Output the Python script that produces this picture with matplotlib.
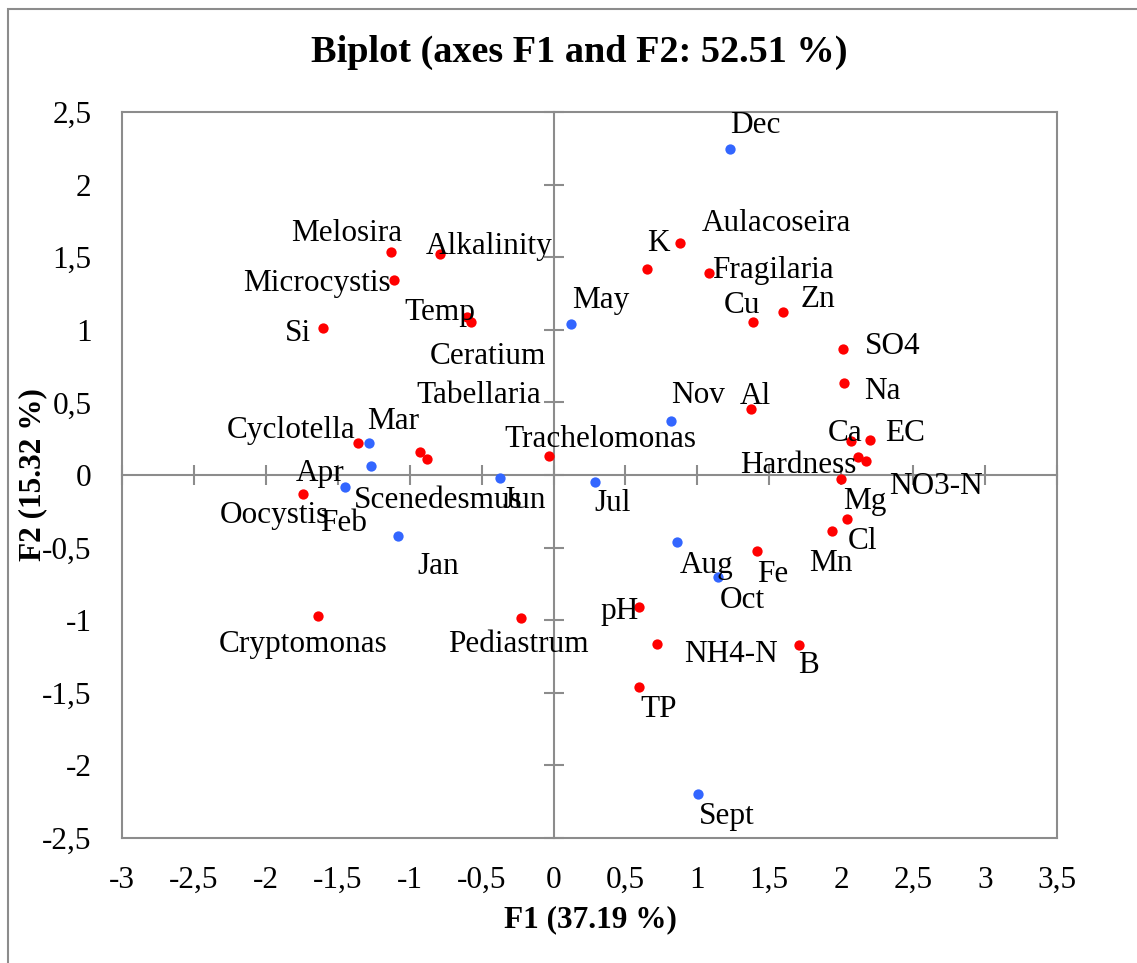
import matplotlib
matplotlib.use('Agg')
import matplotlib.pyplot as plt
from matplotlib.ticker import FuncFormatter, MultipleLocator
from matplotlib.patches import Rectangle

# ---------------- data ----------------
var_names = ['Melosira', 'Alkalinity', 'Microcystis', 'Temp', 'Ceratium', 'Si',
             'Cyclotella', 'Tabellaria', 'Scenedesmus', 'Oocystis', 'Cryptomonas',
             'Pediastrum', 'Trachelomonas', 'K', 'Aulacoseira', 'Fragilaria', 'Cu',
             'Zn', 'SO4', 'Na', 'Al', 'Ca', 'EC', 'Hardness', 'NO3-N', 'Mg', 'Cl',
             'Mn', 'Fe', 'pH', 'NH4-N', 'B', 'TP']
var_f1 = [-1.133, -0.786, -1.106, -0.600, -0.572, -1.606,
          -1.356, -0.925, -0.878, -1.741, -1.636,
          -0.225, -0.035, 0.651, 0.879, 1.079, 1.389,
          1.597, 2.011, 2.018, 1.370, 2.067, 2.197, 2.116, 2.172, 2.000, 2.037,
          1.937, 1.414, 0.596, 0.721, 1.704, 0.593]
var_f2 = [1.534, 1.520, 1.343, 1.090, 1.054, 1.012,
          0.218, 0.156, 0.108, -0.131, -0.969,
          -0.983, 0.131, 1.421, 1.600, 1.389, 1.052,
          1.120, 0.868, 0.632, 0.452, 0.234, 0.241, 0.126, 0.098, -0.030, -0.303,
          -0.383, -0.523, -0.911, -1.162, -1.169, -1.462]

obs_names = ['Jan', 'Feb', 'Mar', 'Apr', 'May', 'Jun', 'Jul', 'Aug', 'Sept',
             'Oct', 'Nov', 'Dec']
obs_f1 = [-1.083, -1.453, -1.284, -1.268, 0.118, -0.373, 0.290, 0.858, 1.006,
          1.143, 0.814, 1.230]
obs_f2 = [-0.420, -0.080, 0.218, 0.062, 1.038, -0.023, -0.050, -0.464, -2.197,
          -0.700, 0.374, 2.245]

title = 'Biplot (axes F1 and F2: 52.51 %)'
xlabel = 'F1 (37.19 %)'
ylabel = 'F2 (15.32 %)'

# label placement (pixel offsets: right, down) -- layout only
label_offsets = {
    'Melosira': (-44, -22), 'Alkalinity': (49, -11), 'Microcystis': (-78, 0),
    'Temp': (-27, -8), 'Ceratium': (17, 31), 'Si': (-25, 2),
    'Cyclotella': (-67, -16), 'Tabellaria': (58, -60), 'Scenedesmus': (11, 38),
    'Oocystis': (-29, 18), 'Cryptomonas': (-15, 25), 'Pediastrum': (-3, 23),
    'Trachelomonas': (52, -20), 'K': (11, -29), 'Aulacoseira': (96, -23),
    'Fragilaria': (64, -6), 'Cu': (-11, -20), 'Zn': (35, -16), 'SO4': (50, -6),
    'Na': (39, 5), 'Al': (5, -16), 'Ca': (-6, -11), 'EC': (36, -10),
    'Hardness': (-60, 5), 'NO3-N': (70, 22), 'Mg': (24, 19), 'Cl': (16, 19),
    'Mn': (-1, 29), 'Fe': (16, 20), 'pH': (-20, 1), 'NH4-N': (74, 7),
    'B': (10, 17), 'TP': (20, 19),
    'Jan': (40, 27), 'Feb': (-1, 33), 'Mar': (24, -25), 'Apr': (-51, 4),
    'May': (30, -27), 'Jun': (24, 19), 'Jul': (17, 18), 'Aug': (30, 20),
    'Sept': (29, 19), 'Oct': (24, 20), 'Nov': (27, -29), 'Dec': (25, -27),
}

# ---------------- style ----------------
plt.rcParams['font.family'] = ['Liberation Serif', 'DejaVu Serif']
plt.rcParams['axes.unicode_minus'] = False
GRAY = '#8c8c8c'
FS = 22.5
W, H = 1137, 963

fig = plt.figure(figsize=(W / 100, H / 100), dpi=100)
fig.patch.set_facecolor('white')

rect = [122 / W, (H - 838) / H, 935 / W, 726 / H]
ax = fig.add_axes(rect)
ax.set_xlim(-3, 3.5)
ax.set_ylim(-2.5, 2.5)
for sp in ax.spines.values():
    sp.set_color(GRAY)
    sp.set_linewidth(1.5)
ax.xaxis.set_major_locator(MultipleLocator(0.5))
ax.yaxis.set_major_locator(MultipleLocator(0.5))
fmt = FuncFormatter(lambda v, p: ('%g' % v).replace('.', ','))
ax.xaxis.set_major_formatter(fmt)
ax.yaxis.set_major_formatter(fmt)
ax.tick_params(axis='both', length=0, labelsize=FS)
ax.tick_params(axis='x', pad=20)
ax.tick_params(axis='y', pad=22)

# overlay axes for the zero-crossing axes with tick marks
ov = fig.add_axes(rect, sharex=ax, sharey=ax)
ov.patch.set_visible(False)
ov.spines['top'].set_visible(False)
ov.spines['right'].set_visible(False)
for s in ('left', 'bottom'):
    ov.spines[s].set_position(('data', 0))
    ov.spines[s].set_color(GRAY)
    ov.spines[s].set_linewidth(1.5)
ov.tick_params(axis='both', direction='inout', length=14, width=1.5,
               color=GRAY, labelleft=False, labelbottom=False)

ov.scatter(var_f1, var_f2, s=55, color='#ff0000', zorder=4, linewidths=0)
ov.scatter(obs_f1, obs_f2, s=55, color='#3366ff', zorder=4, linewidths=0)

for names, xs, ys in ((var_names, var_f1, var_f2), (obs_names, obs_f1, obs_f2)):
    for n, x, y in zip(names, xs, ys):
        dx, dy = label_offsets.get(n, (0, -20))
        ov.annotate(n, (x, y), xytext=(dx, -dy), textcoords='offset pixels',
                    ha='center', va='center_baseline', fontsize=FS,
                    annotation_clip=False, zorder=5)

fig.text(579 / W, 1 - 52 / H, title, ha='center', va='center',
         fontsize=27.5, fontweight='bold')
fig.text(590 / W, 1 - 920 / H, xlabel, ha='center', va='center',
         fontsize=FS, fontweight='bold')
fig.text(33 / W, 1 - 475 / H, ylabel, ha='center', va='center', rotation=90,
         fontsize=FS, fontweight='bold')

outer = Rectangle((8 / W, -0.2), 1.5, 1 - 9 / H + 0.2, transform=fig.transFigure,
                  fill=False, edgecolor=GRAY, linewidth=1.5, clip_on=False)
fig.add_artist(outer)

fig.savefig('out.png', dpi=100, facecolor='white')
